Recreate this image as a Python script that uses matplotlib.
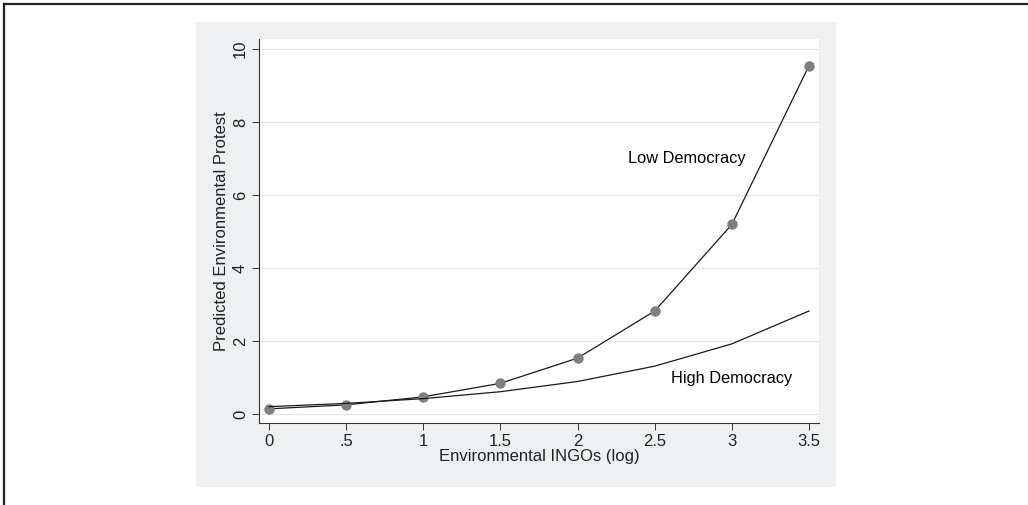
import matplotlib.pyplot as plt
from matplotlib.lines import Line2D
from matplotlib.patches import Rectangle

plt.rcParams['font.family'] = ['Liberation Sans', 'DejaVu Sans']

x = [0, 0.5, 1, 1.5, 2, 2.5, 3, 3.5]
low_dem = [0.14, 0.25, 0.47, 0.84, 1.53, 2.82, 5.19, 9.54]
high_dem = [0.20, 0.29, 0.42, 0.61, 0.89, 1.31, 1.92, 2.82]
xticks = [0, 0.5, 1, 1.5, 2, 2.5, 3, 3.5]
xticklabels = ['0', '.5', '1', '1.5', '2', '2.5', '3', '3.5']
yticks = [0, 2, 4, 6, 8, 10]

W, H = 1028, 505
fig = plt.figure(figsize=(W / 100, H / 100), dpi=100)

# outer frame lines (top and left)
fig.add_artist(Line2D([4 / W, 1], [1 - 4 / H, 1 - 4 / H], color='#222222', lw=1.6))
fig.add_artist(Line2D([4 / W, 4 / W], [0, 1 - 4 / H], color='#222222', lw=1.6))

# gray graph region
fig.add_artist(Rectangle((196 / W, 1 - 487 / H), 640 / W, 465 / H,
                         facecolor='#eff0f2', edgecolor='none', zorder=0))

ax = fig.add_axes([259 / W, 1 - 423 / H, 560 / W, 384 / H])
ax.set_facecolor('white')

ax.plot(x, low_dem, color='#1a1a1a', lw=0.9, marker='o', markersize=6.5,
        markerfacecolor='#7f7f7f', markeredgecolor='#7f7f7f', zorder=3)
ax.plot(x, high_dem, color='#1a1a1a', lw=0.9, zorder=3)

ax.text(2.71, 7.0, 'Low Democracy', ha='center', va='center', fontsize=11.8)
ax.text(3.0, 0.96, 'High Democracy', ha='center', va='center', fontsize=11.8)

ax.set_xlim(-0.065, 3.565)
ax.set_ylim(-0.247, 10.27)
ax.set_xticks(xticks)
ax.set_xticklabels(xticklabels)
ax.set_yticks(yticks)
ax.set_yticklabels([str(t) for t in yticks], rotation=90, va='center')
ax.grid(axis='y', color='#e6e7e9', lw=1.0)
ax.set_axisbelow(True)

for s in ['top', 'right']:
    ax.spines[s].set_visible(False)
for s in ['left', 'bottom']:
    ax.spines[s].set_color('#333333')
    ax.spines[s].set_linewidth(0.8)
ax.tick_params(axis='both', length=5, width=0.7, color='#333333',
               labelsize=12, labelcolor='#222222', pad=3)

ax.set_xlabel('Environmental INGOs (log)', fontsize=12, color='#222222', labelpad=0)
ax.set_ylabel('Predicted Environmental Protest', fontsize=12, color='#222222', labelpad=3)

fig.savefig('out.png', dpi=100)
